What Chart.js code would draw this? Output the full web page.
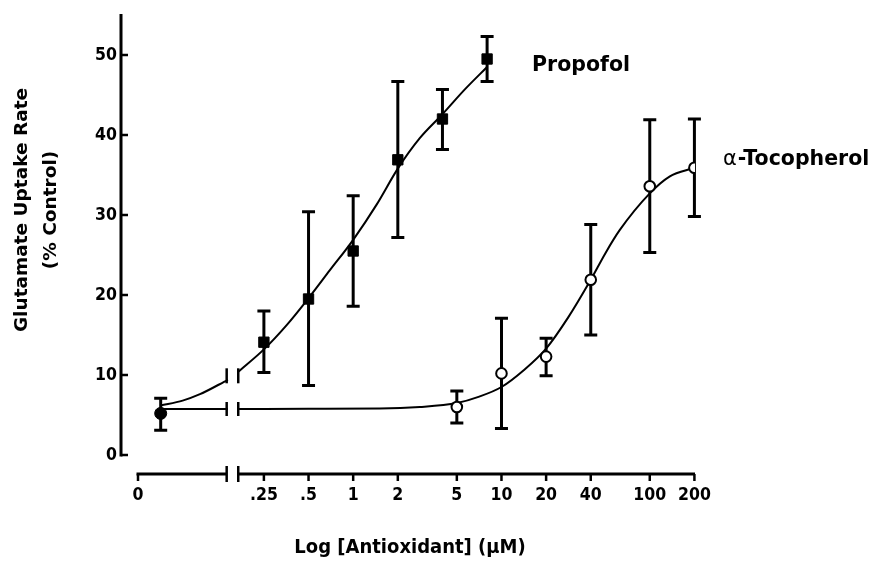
<!DOCTYPE html>
<html><head><meta charset="utf-8">
<script src="https://cdn.jsdelivr.net/npm/chart.js@4/dist/chart.umd.min.js"></script>
<style>html,body{margin:0;padding:0;background:#fff}#wrap{width:877px;height:575px}</style>
</head><body><div id="wrap"><canvas id="c" width="877" height="575"></canvas></div>
<script>
// ---------- data ----------
const xTickLabels = ['0', '.25', '.5', '1', '2', '5', '10', '20', '40', '100', '200'];
const xTickConc   = [null, 0.25, 0.5, 1, 2, 5, 10, 20, 40, 100, 200]; // null = axis origin
const yTickValues = [0, 10, 20, 30, 40, 50];

const controlConc = [0];
const controlMean = [5.2];
const controlLow  = [3.1];
const controlHigh = [7.1];

const propConc = [0.25, 0.5, 1, 2, 4, 8];
const propMean = [14.1, 19.5, 25.5, 36.9, 42.0, 49.5];
const propLow  = [10.3, 8.7, 18.6, 27.2, 38.2, 46.7];
const propHigh = [18.0, 30.4, 32.4, 46.7, 45.7, 52.3];

const tocoConc = [5, 10, 20, 40, 100, 200];
const tocoMean = [6.0, 10.2, 12.3, 21.9, 33.6, 35.9];
const tocoLow  = [4.0, 3.3, 9.9, 15.0, 25.3, 29.8];
const tocoHigh = [8.0, 17.1, 14.6, 28.8, 41.9, 42.0];

// fitted curves, positions in log10(µM) axis units (left part sits in the broken "0" segment)
const propCurvePos = [-1.298, -1.15, -1.033, -0.845, -0.81, -0.775, -0.602, -0.45, -0.301, -0.157, 0, 0.158, 0.301, 0.449, 0.602, 0.753, 0.903];
const propCurveVal = [6.2, 6.8, 7.6, 9.4, null, 10.4, 13.2, 16.2, 19.6, 23.1, 26.9, 31.3, 35.8, 39.6, 42.6, 45.7, 48.5];
const tocoCurvePos = [-1.298, -1.0, -0.845, -0.81, -0.775, -0.3, 0.18, 0.45, 0.699, 0.85, 1.0, 1.15, 1.301, 1.45, 1.602, 1.7, 1.797, 2.0, 2.133, 2.301];
const tocoCurveVal = [5.75, 5.75, 5.75, null, 5.75, 5.77, 5.8, 6.0, 6.5, 7.3, 8.5, 10.6, 13.3, 17.2, 21.9, 25.2, 28.1, 32.7, 34.8, 35.9];

// ---------- axis layout (log10 units) ----------
const X_AXIS_START = -1.451, X_AXIS_END = 2.305, ZERO_POS = -1.298;
const BREAK_L = -0.853, BREAK_R = -0.775;
const Y_MIN = -2.5, Y_MAX = 55.125;

const FONT = '"DejaVu Sans", Verdana, sans-serif';
const CFONT = '"DejaVu Sans Condensed", "DejaVu Sans", sans-serif';
const pos = c => (c === 0 ? ZERO_POS : Math.log10(c));
const pts = (conc, vals) => conc.map((c, i) => ({ x: pos(c), y: vals[i] }));
const curve = (p, v) => p.map((x, i) => ({ x: x, y: v[i] }));

const decor = {
  id: 'decor',
  beforeDatasetsDraw(chart) {
    const ctx = chart.ctx, xs = chart.scales.x, ys = chart.scales.y, ca = chart.chartArea;
    ctx.save();
    ctx.strokeStyle = '#000'; ctx.lineCap = 'butt';
    // y axis
    const yAxisX = ca.left - 17;
    ctx.lineWidth = 3;
    ctx.beginPath(); ctx.moveTo(yAxisX, ys.getPixelForValue(0) + 1.5); ctx.lineTo(yAxisX, ca.top); ctx.stroke();
    ctx.lineWidth = 2.5;
    yTickValues.forEach(v => { const y = ys.getPixelForValue(v); ctx.beginPath(); ctx.moveTo(yAxisX, y); ctx.lineTo(yAxisX + 7, y); ctx.stroke(); });
    // x axis with break
    const xb = ca.bottom - 1;
    ctx.lineWidth = 3;
    ctx.beginPath();
    ctx.moveTo(xs.getPixelForValue(X_AXIS_START) - 1.5, xb); ctx.lineTo(xs.getPixelForValue(BREAK_L), xb);
    ctx.moveTo(xs.getPixelForValue(BREAK_R), xb); ctx.lineTo(xs.getPixelForValue(X_AXIS_END), xb);
    ctx.stroke();
    ctx.lineWidth = 2.5;
    xTickConc.forEach(c => { const x = xs.getPixelForValue(c === null ? X_AXIS_START : Math.log10(c)); ctx.beginPath(); ctx.moveTo(x, xb); ctx.lineTo(x, xb + 7); ctx.stroke(); });
    // break marks
    const mark = (v, yc, h) => { const x = xs.getPixelForValue(v); ctx.beginPath(); ctx.moveTo(x, yc - h); ctx.lineTo(x, yc + h); ctx.stroke(); };
    ctx.lineWidth = 2.5;
    [BREAK_L, BREAK_R].forEach(v => mark(v, xb, 8));
    const pMid = ys.getPixelForValue((propCurveVal[3] + propCurveVal[5]) / 2);
    const tMid = ys.getPixelForValue(tocoCurveVal[2]);
    [BREAK_L, BREAK_R].forEach(v => { mark(v, pMid, 7.5); mark(v, tMid, 7); });
    // error bars
    chart.data.datasets.forEach(ds => {
      if (!ds.errLow) return;
      ds.data.forEach((p, i) => {
        const x = xs.getPixelForValue(p.x), y1 = ys.getPixelForValue(ds.errLow[i]), y2 = ys.getPixelForValue(ds.errHigh[i]);
        ctx.lineWidth = 3;
        ctx.beginPath(); ctx.moveTo(x, y1); ctx.lineTo(x, y2); ctx.stroke();
        ctx.beginPath(); ctx.moveTo(x - 6.5, y1); ctx.lineTo(x + 6.5, y1); ctx.moveTo(x - 6.5, y2); ctx.lineTo(x + 6.5, y2); ctx.stroke();
      });
    });
    ctx.restore();
  },
  afterDraw(chart) {
    const ctx = chart.ctx;
    ctx.save();
    ctx.fillStyle = '#000';
    // y title
    ctx.font = 'bold 18.5px ' + FONT;
    ctx.textAlign = 'center'; ctx.textBaseline = 'middle';
    [['Glutamate Uptake Rate', 22.5], ['(% Control)', 51]].forEach(([t, x]) => {
      ctx.save(); ctx.translate(x, 210); ctx.rotate(-Math.PI / 2); ctx.fillText(t, 0, 0); ctx.restore();
    });
    // x title
    ctx.font = 'bold 20px ' + CFONT;
    ctx.fillText('Log [Antioxidant] (\u03BCM)', 410, 548);
    // series labels
    ctx.textAlign = 'left';
    ctx.font = 'bold 20.5px ' + FONT;
    ctx.fillText('Propofol', 532, 66);
    ctx.font = '21px ' + FONT;
    ctx.fillText('\u03B1', 723, 160);
    const aw = ctx.measureText('\u03B1').width;
    ctx.font = 'bold 20.5px ' + FONT;
    ctx.fillText('-Tocopherol', 723 + aw + 1, 160);
    ctx.restore();
  }
};

new Chart(document.getElementById('c'), {
  type: 'scatter',
  data: {
    datasets: [
      { label: 'Control', data: pts(controlConc, controlMean), errLow: controlLow, errHigh: controlHigh,
        pointStyle: 'circle', pointRadius: 6, backgroundColor: '#000', borderColor: '#000', borderWidth: 1 },
      { label: 'Propofol', data: pts(propConc, propMean), errLow: propLow, errHigh: propHigh,
        pointStyle: 'rect', pointRadius: 7.3, backgroundColor: '#000', borderColor: '#000', borderWidth: 1 },
      { label: 'α-Tocopherol', data: pts(tocoConc, tocoMean), errLow: tocoLow, errHigh: tocoHigh,
        pointStyle: 'circle', pointRadius: 5.3, backgroundColor: '#fff', borderColor: '#000', borderWidth: 2 },
      { label: 'Propofol fit', type: 'line', data: curve(propCurvePos, propCurveVal), showLine: true,
        borderColor: '#000', borderWidth: 2, pointRadius: 0, cubicInterpolationMode: 'monotone', spanGaps: false, fill: false },
      { label: 'α-Tocopherol fit', type: 'line', data: curve(tocoCurvePos, tocoCurveVal), showLine: true,
        borderColor: '#000', borderWidth: 2, pointRadius: 0, cubicInterpolationMode: 'monotone', spanGaps: false, fill: false }
    ]
  },
  options: {
    responsive: false, animation: false, devicePixelRatio: 1,
    layout: { padding: { top: 14, right: 182, bottom: 0, left: 0 } },
    plugins: { legend: { display: false }, tooltip: { enabled: false } },
    scales: {
      x: {
        type: 'linear', min: X_AXIS_START, max: X_AXIS_END,
        grid: { display: false, drawTicks: false }, border: { display: false },
        afterBuildTicks: s => { s.ticks = xTickConc.map(c => ({ value: c === null ? X_AXIS_START : Math.log10(c) })); },
        afterFit: s => { s.height = 100; s.paddingLeft = 0; s.paddingRight = 0; s.paddingTop = 0; s.paddingBottom = 0; },
        ticks: { autoSkip: false, maxRotation: 0, padding: 10, color: '#000',
                 font: { family: CFONT, size: 17.5, weight: 'bold' },
                 callback: (v, i) => xTickLabels[i] }
      },
      y: {
        type: 'linear', min: Y_MIN, max: Y_MAX,
        grid: { display: false, drawTicks: false }, border: { display: false },
        afterBuildTicks: s => { s.ticks = yTickValues.map(v => ({ value: v })); },
        afterFit: s => { s.width = 138; s.paddingLeft = 0; s.paddingRight = 0; s.paddingTop = 0; s.paddingBottom = 0; },
        ticks: { padding: 21, color: '#000', font: { family: CFONT, size: 17.5, weight: 'bold' },
                 callback: v => String(v) }
      }
    }
  },
  plugins: [decor]
});
</script></body></html>
